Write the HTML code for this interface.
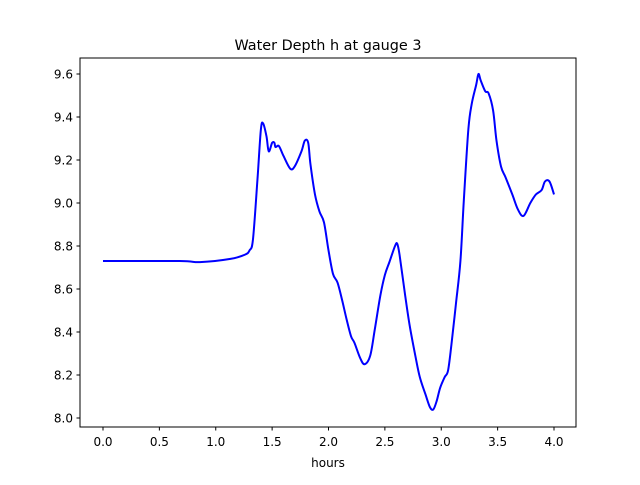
<!DOCTYPE html>
<html><head><meta charset="utf-8"><style>
body{margin:0;background:#fff;}
svg text{font-family:"DejaVu Sans","Liberation Sans",sans-serif;fill:#000;}
</style></head><body>
<svg id="chart" width="640" height="480" xmlns="http://www.w3.org/2000/svg">
<rect width="640" height="480" fill="#fff"/>
<text x="328" y="50" font-size="14.4" text-anchor="middle">Water Depth h at gauge 3</text>
<rect x="80" y="58" width="496" height="369" fill="none" stroke="#000" stroke-width="1"/>
<g id="xt"></g><g id="yt"></g>
<path id="line" fill="none" stroke="#0000ff" stroke-width="2" stroke-linejoin="round"/>
<text x="328" y="467" font-size="12" text-anchor="middle">hours</text>
</svg>
<script>
const xTicks=[0,0.5,1,1.5,2,2.5,3,3.5,4];
const xTickLabels=["0.0","0.5","1.0","1.5","2.0","2.5","3.0","3.5","4.0"];
const yTicks=[8.0,8.2,8.4,8.6,8.8,9.0,9.2,9.4,9.6];
const yTickLabels=["8.0","8.2","8.4","8.6","8.8","9.0","9.2","9.4","9.6"];
const hours=[0,0.68,0.86,1.13,1.26,1.30,1.33,1.37,1.40,1.42,1.45,1.47,1.50,1.52,1.53,1.56,1.60,1.66,1.70,1.76,1.79,1.82,1.84,1.88,1.92,1.96,2.00,2.04,2.08,2.12,2.16,2.20,2.23,2.28,2.32,2.37,2.41,2.46,2.50,2.54,2.59,2.61,2.63,2.68,2.72,2.77,2.81,2.86,2.90,2.93,2.96,2.99,3.03,3.06,3.09,3.13,3.17,3.20,3.24,3.27,3.31,3.33,3.35,3.39,3.42,3.46,3.49,3.53,3.57,3.63,3.68,3.73,3.79,3.84,3.89,3.92,3.96,4.00];
const depth=[8.73,8.73,8.725,8.74,8.76,8.78,8.83,9.11,9.34,9.37,9.31,9.24,9.28,9.28,9.26,9.265,9.22,9.16,9.17,9.24,9.29,9.28,9.18,9.04,8.96,8.91,8.78,8.67,8.63,8.55,8.46,8.38,8.35,8.28,8.25,8.29,8.41,8.57,8.665,8.725,8.80,8.81,8.76,8.57,8.43,8.29,8.19,8.11,8.05,8.04,8.08,8.14,8.19,8.22,8.34,8.53,8.73,9.01,9.34,9.46,9.55,9.60,9.57,9.52,9.51,9.43,9.29,9.17,9.12,9.04,8.97,8.94,9.00,9.04,9.06,9.10,9.10,9.04];
const sx=t=>103+t*112.75;
const sy=v=>418-(v-8)*215;
const NS="http://www.w3.org/2000/svg";
const xt=document.getElementById('xt'),yt=document.getElementById('yt');
xTicks.forEach((t,i)=>{
 const l=document.createElementNS(NS,'line');
 
 
 l.setAttribute('x1',sx(t));l.setAttribute('x2',sx(t));l.setAttribute('y1',427);l.setAttribute('y2',430.5);l.setAttribute('stroke','#000');
 xt.appendChild(l);
 const tx=document.createElementNS(NS,'text');
 
 
 tx.setAttribute('x',sx(t));tx.setAttribute('y',446);tx.setAttribute('font-size','12');tx.setAttribute('text-anchor','middle');
 tx.textContent=xTickLabels[i];xt.appendChild(tx);
});
yTicks.forEach((v,i)=>{
 const l=document.createElementNS(NS,'line');
 
 
 l.setAttribute('x1',76.5);l.setAttribute('x2',80);l.setAttribute('y1',sy(v));l.setAttribute('y2',sy(v));l.setAttribute('stroke','#000');
 yt.appendChild(l);
 const tx=document.createElementNS(NS,'text');
 
 
 tx.setAttribute('x',73);tx.setAttribute('y',sy(v)+4.5);tx.setAttribute('font-size','12');tx.setAttribute('text-anchor','end');
 tx.textContent=yTickLabels[i];yt.appendChild(tx);
});
const P=hours.map((t,i)=>[sx(t),sy(depth[i])]);
let d='M'+P[0][0]+','+P[0][1];
for(let i=0;i<P.length-1;i++){
 const p0=P[Math.max(i-1,0)],p1=P[i],p2=P[i+1],p3=P[Math.min(i+2,P.length-1)];
 const c1=[p1[0]+(p2[0]-p0[0])/6,p1[1]+(p2[1]-p0[1])/6];
 const c2=[p2[0]-(p3[0]-p1[0])/6,p2[1]-(p3[1]-p1[1])/6];
 d+=' C'+c1[0]+','+c1[1]+' '+c2[0]+','+c2[1]+' '+p2[0]+','+p2[1];
}
document.getElementById('line').setAttribute('d',d);
</script>
</body></html>
